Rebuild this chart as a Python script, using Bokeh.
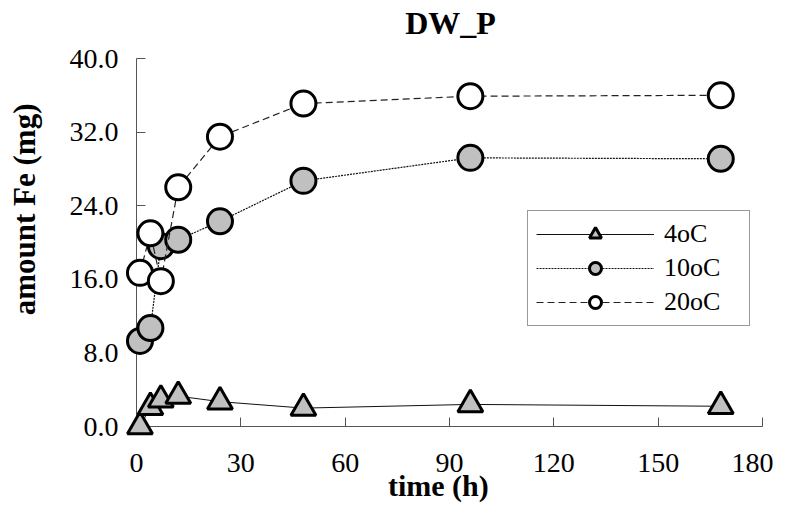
import math
from bokeh.plotting import figure
from bokeh.models import (FixedTicker, PrintfTickFormatter, Legend, LegendItem,
                          Range1d)
from bokeh.core.properties import value
from bokeh.embed import file_html
from bokeh.resources import INLINE

# ---- data ----
times = [1, 4, 7, 12, 24, 48, 96, 168]
fe_4oC = [0.0, 2.1, 2.9, 3.3, 2.7, 2.0, 2.4, 2.2]
fe_10oC = [9.3, 10.7, 19.6, 20.3, 22.3, 26.7, 29.2, 29.1]
fe_20oC = [16.7, 21.0, 15.8, 26.0, 31.5, 35.1, 35.9, 36.0]
series_names = ["4oC", "10oC", "20oC"]
x_ticks = [0, 30, 60, 90, 120, 150, 180]
y_ticks = [0, 8, 16, 24, 32, 40]
title_text = "DW_P"
x_label = "time (h)"
y_label = "amount Fe (mg)"

FONT = "Liberation Serif"

p = figure(width=773, height=505, output_backend="svg", toolbar_location=None,
           x_range=Range1d(0, 180), y_range=Range1d(0, 40),
           min_border_left=136, min_border_right=11, min_border_top=58,
           min_border_bottom=79, frame_width=626, frame_height=368)
p.title.visible = False
p.outline_line_color = None
p.xgrid.visible = False
p.ygrid.visible = False
p.background_fill_color = "white"
p.border_fill_color = "white"

for ax in (p.xaxis[0], p.yaxis[0]):
    ax.axis_line_color = "#555555"
    ax.axis_line_width = 1
    ax.major_tick_line_color = "#555555"
    ax.major_tick_in = 9
    ax.major_tick_out = 0
    ax.minor_tick_line_color = None
    ax.major_label_text_font = FONT
    ax.major_label_text_font_size = "28px"
    ax.major_label_text_color = "black"

p.xaxis[0].ticker = FixedTicker(ticks=x_ticks)
p.yaxis[0].ticker = FixedTicker(ticks=y_ticks)
p.yaxis[0].formatter = PrintfTickFormatter(format="%.1f")
p.xaxis[0].major_label_standoff = 27
p.yaxis[0].major_label_standoff = 18

gray = "#c0c0c0"

l4 = p.line(times, fe_4oC, line_color="#111111", line_width=1, level="overlay")
m4 = p.scatter(times, fe_4oC, marker="triangle", size=25, fill_color=gray,
               line_color="black", line_width=3, level="overlay")
l10 = p.line(times, fe_10oC, line_color="#111111", line_width=1.2, line_dash="2 1",
             level="overlay")
m10 = p.scatter(times, fe_10oC, marker="circle", size=25, fill_color=gray,
                line_color="black", line_width=3, level="overlay")
l20 = p.line(times, fe_20oC, line_color="#222222", line_width=1.2, line_dash="7 4",
             level="overlay")
m20 = p.scatter(times, fe_20oC, marker="circle", size=25, fill_color="white",
                line_color="black", line_width=3, level="overlay")

legend = Legend(items=[
    LegendItem(label=series_names[0], renderers=[l4, m4]),
    LegendItem(label=series_names[1], renderers=[l10, m10]),
    LegendItem(label=series_names[2], renderers=[l20, m20]),
], location=(391, 100))
legend.border_line_color = "#333333"
legend.border_line_width = 1.5
legend.background_fill_color = "white"
legend.padding = 8
legend.spacing = 4
legend.margin = 0
legend.glyph_width = 118
legend.glyph_height = 30
legend.label_height = 30
legend.label_width = 77
legend.label_standoff = 10
legend.label_text_font = FONT
legend.label_text_font_size = "26px"
legend.label_text_color = "black"
p.add_layout(legend, "center")

# titles and axis titles as text glyphs (overlay level so they are not clipped)
p.text(x=[90.3], y=[43.86], text=[title_text], text_font=value(FONT),
       text_font_size="32px", text_font_style="bold", text_align="center",
       text_baseline="middle", text_color="black", level="overlay")
p.text(x=[86.8], y=[-6.4], text=[x_label], text_font=value(FONT),
       text_font_size="30px", text_font_style="bold", text_align="center",
       text_baseline="middle", text_color="black", level="overlay")
p.text(x=[-32.2], y=[23.6], text=[y_label], text_font=value(FONT),
       text_font_size="31px", text_font_style="bold", text_align="center",
       text_baseline="middle", angle=math.pi / 2, text_color="black",
       level="overlay")

open("out.html", "w").write(file_html(p, INLINE))
